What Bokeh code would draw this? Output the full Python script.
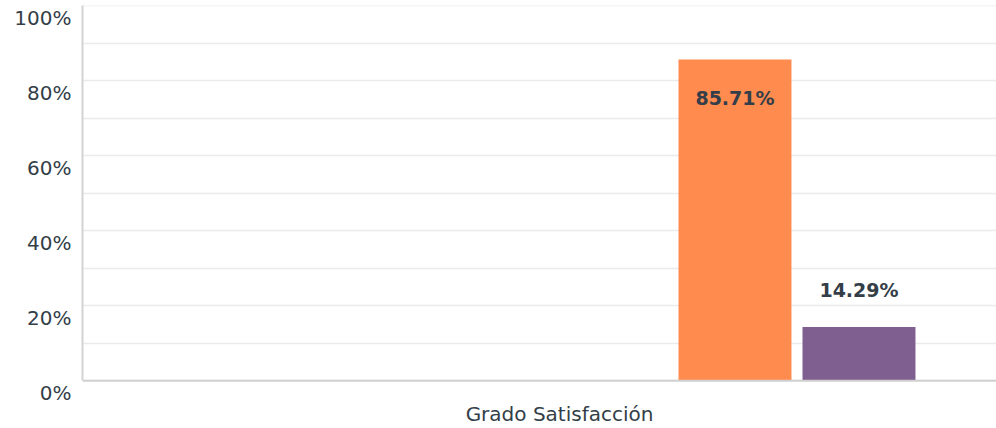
from bokeh.plotting import figure
from bokeh.models import Range1d, FixedTicker, ColumnDataSource, LinearAxis, PrintfTickFormatter, Span
from bokeh.core.properties import value
from bokeh.embed import file_html
from bokeh.resources import INLINE

# ---- data ----
category = "Grado Satisfacción"
series_index = [0, 1, 2, 3, 4, 5]
series_values = [0.0, 0.0, 0.0, 0.0, 85.71, 14.29]
series_colors = ["#00BF6F", "#507CB6", "#F9BE00", "#6BC8CD", "#FF8B4F", "#7F5F90"]
y_ticks = [0, 20, 40, 60, 80, 100]
y_minor_ticks = [10, 30, 50, 70, 90]

TEXT = "#333e48"
FONT = "DejaVu Sans"

X_START, X_END = -1.262, 6.109
Y_START, Y_END = -4.5, 100.13
LABEL_SHIFT = 3.2   # tick labels sit a little below their grid lines

bars = ColumnDataSource(dict(x=series_index, value=series_values, color=series_colors))

lab_x, lab_y, lab_t, lab_off = [], [], [], []
for i, v in zip(series_index, series_values):
    if v > 0:
        lab_x.append(i)
        lab_y.append(v)
        lab_t.append(f"{v:.2f}%")
        lab_off.append(38 if v > 50 else -37)
labels = ColumnDataSource(dict(x=lab_x, y=lab_y, t=lab_t, off=lab_off))

p = figure(width=996, height=428,
           x_range=Range1d(X_START, X_END), y_range=Range1d(Y_START, Y_END),
           output_backend="svg", toolbar_location=None,
           min_border_left=82, min_border_right=0, min_border_top=5, min_border_bottom=31,
           outline_line_color=None, background_fill_color="white", border_fill_color="white")
p.extra_y_ranges = {"ylab": Range1d(Y_START + LABEL_SHIFT, Y_END + LABEL_SHIFT)}

yt = FixedTicker(ticks=y_ticks, minor_ticks=y_minor_ticks)
p.ygrid.ticker = yt
p.ygrid.grid_line_color = "#ebebeb"
p.ygrid.grid_line_width = 1.5
p.ygrid.minor_grid_line_color = "#ebebeb"
p.ygrid.minor_grid_line_width = 1.5
p.xgrid.grid_line_color = None

p.vbar(x="x", top="value", width=0.911, bottom=0, fill_color="color", line_color=None, source=bars)

p.text(x="x", y="y", text="t", y_offset="off", source=labels,
       text_align="center", text_baseline="middle",
       text_font=value(FONT), text_font_size="19px", text_font_style="bold",
       text_color=TEXT)

# baseline at 0%
p.add_layout(Span(location=0, dimension="width", line_color="#d0d0d0", line_width=2))

# x axis: category label only
group_center = 2.585
p.xaxis.ticker = FixedTicker(ticks=[group_center])
p.xaxis.major_label_overrides = {group_center: category}
p.xaxis.axis_line_color = None
p.xaxis.major_tick_line_color = None
p.xaxis.minor_tick_line_color = None
p.xaxis.major_tick_out = 0
p.xaxis.minor_tick_out = 0
p.xaxis.major_label_standoff = 4
p.xaxis.major_label_text_font = FONT
p.xaxis.major_label_text_font_size = "20px"
p.xaxis.major_label_text_color = TEXT

# y axis line (0%..100%), no labels
p.yaxis.ticker = FixedTicker(ticks=[])
p.yaxis.bounds = (0, Y_END)
p.yaxis.axis_line_color = "#d3d3d3"
p.yaxis.axis_line_width = 2
p.yaxis.major_tick_line_color = None
p.yaxis.minor_tick_line_color = None
p.yaxis.major_tick_out = 0
p.yaxis.minor_tick_out = 0
p.yaxis.major_label_standoff = 0

# y tick labels
ylab = LinearAxis(y_range_name="ylab", ticker=FixedTicker(ticks=y_ticks),
                  formatter=PrintfTickFormatter(format="%d%%"))
ylab.axis_line_color = None
ylab.major_tick_line_color = None
ylab.minor_tick_line_color = None
ylab.major_tick_out = 0
ylab.minor_tick_out = 0
ylab.major_label_standoff = 11
ylab.major_label_text_font = FONT
ylab.major_label_text_font_size = "20px"
ylab.major_label_text_color = TEXT
p.add_layout(ylab, "left")

open("out.html", "w").write(file_html(p, INLINE))
